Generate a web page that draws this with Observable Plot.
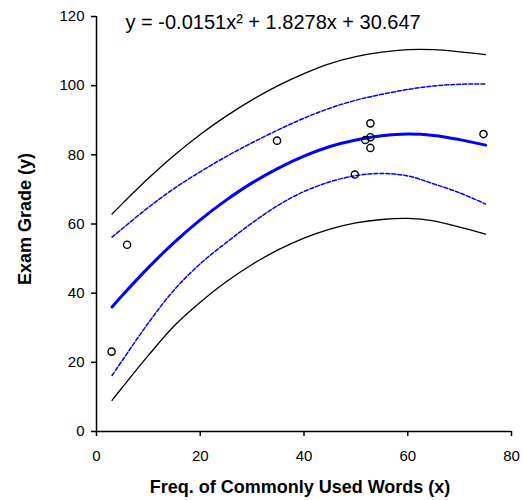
<!DOCTYPE html>
<html>
<head>
<meta charset="utf-8">
<script src="https://cdn.jsdelivr.net/npm/d3@7"></script>
<script src="https://cdn.jsdelivr.net/npm/@observablehq/plot@0.6"></script>
<style>
  html, body { margin: 0; padding: 0; background: #fff; }
  #chart svg { display: block; }
</style>
</head>
<body>
<div id="chart"></div>
<script>
// Observed data points (x = frequency of commonly used words, y = exam grade)
const obsX = [2.9, 5.9, 34.8, 49.8, 51.8, 52.8, 52.8, 52.8, 74.6];
const obsY = [23.1, 54.0, 84.1, 74.3, 84.3, 89.1, 85.1, 82.0, 86.0];

// Curves at these x positions
const curveX   = [3, 5, 10, 15, 20, 25, 30, 35, 40, 45, 50, 55, 60, 65, 70, 75];
const fitY     = [36.0, 39.4, 47.4, 54.7, 61.2, 66.9, 71.9, 76.1, 79.6, 82.4, 84.3, 85.5, 86.0, 85.6, 84.4, 82.8];
const ciUpper  = [56.2, 58.7, 64.8, 70.3, 75.1, 79.5, 83.5, 87.2, 90.6, 93.5, 95.8, 97.5, 98.9, 99.9, 100.4, 100.5];
const ciLower  = [16.2, 20.6, 31.4, 41.0, 48.5, 54.6, 60.3, 65.4, 69.4, 72.2, 74.0, 74.6, 73.9, 71.6, 69.0, 65.8];
const piUpper  = [62.9, 65.9, 73.2, 79.9, 85.9, 91.2, 95.9, 100.0, 103.5, 106.4, 108.4, 109.7, 110.4, 110.4, 109.8, 109.0];
const piLower  = [9.0, 12.8, 22.0, 30.6, 37.4, 43.3, 48.3, 52.5, 55.9, 58.5, 60.3, 61.3, 61.6, 60.9, 59.1, 57.1];

// Axes
const xTicks = [0, 20, 40, 60, 80];
const yTicks = [0, 20, 40, 60, 80, 100, 120];
const xTitle = "Freq. of Commonly Used Words (x)";
const yTitle = "Exam Grade (y)";
const equation = "y = -0.0151x\u00B2 + 1.8278x + 30.647";

const points = obsX.map((x, i) => ({x, y: obsY[i]}));
const curves = curveX.map((x, i) => ({
  x, fit: fitY[i], ciU: ciUpper[i], ciL: ciLower[i], piU: piUpper[i], piL: piLower[i]
}));

const font = "'Liberation Sans', Arial, Helvetica, sans-serif";

const chart = Plot.plot({
  width: 523,
  height: 500,
  marginLeft: 96,
  marginRight: 12,
  marginTop: 16,
  marginBottom: 69,
  style: { fontFamily: font, fontSize: "15px", background: "#fff", color: "#000" },
  x: { domain: [0, 80], label: null },
  y: { domain: [0, 120], label: null },
  marks: [
    Plot.axisX({ ticks: xTicks, tickSize: 5, tickPadding: 14, strokeWidth: 1.5, fontSize: 15, label: null }),
    Plot.axisY({ ticks: yTicks, tickSize: 5, tickPadding: 7, strokeWidth: 1.5, fontSize: 15, label: null }),
    Plot.ruleX([0], { stroke: "#000", strokeWidth: 1.5 }),
    Plot.ruleY([0], { stroke: "#000", strokeWidth: 1.5 }),
    // prediction band
    Plot.line(curves, { x: "x", y: "piU", stroke: "#000", strokeWidth: 1.3, curve: "catmull-rom" }),
    Plot.line(curves, { x: "x", y: "piL", stroke: "#000", strokeWidth: 1.3, curve: "catmull-rom" }),
    // confidence band
    Plot.line(curves, { x: "x", y: "ciU", stroke: "#0000ff", strokeWidth: 1.5, strokeDasharray: "4,2", curve: "catmull-rom" }),
    Plot.line(curves, { x: "x", y: "ciL", stroke: "#0000ff", strokeWidth: 1.5, strokeDasharray: "4,2", curve: "catmull-rom" }),
    // fitted curve
    Plot.line(curves, { x: "x", y: "fit", stroke: "#0000ff", strokeWidth: 3, curve: "catmull-rom" }),
    // observations
    Plot.dot(points, { x: "x", y: "y", r: 3.6, stroke: "#000", strokeWidth: 1.4, fill: "none" }),
    // equation
    Plot.text([equation], { frameAnchor: "top-left", textAnchor: "start", lineAnchor: "bottom",
      dx: 29, dy: 12, fontSize: 20, fill: "#000" }),
    // axis titles
    Plot.text([xTitle], { frameAnchor: "bottom", textAnchor: "middle", lineAnchor: "bottom", dx: -4, dy: 61,
      fontSize: 18, fontWeight: "bold", fill: "#000" }),
    Plot.text([yTitle], { frameAnchor: "left", textAnchor: "middle", lineAnchor: "bottom", rotate: -90, dx: -66, dy: -5,
      fontSize: 18, fontWeight: "bold", fill: "#000" })
  ]
});

document.getElementById("chart").appendChild(chart);
</script>
</body>
</html>
